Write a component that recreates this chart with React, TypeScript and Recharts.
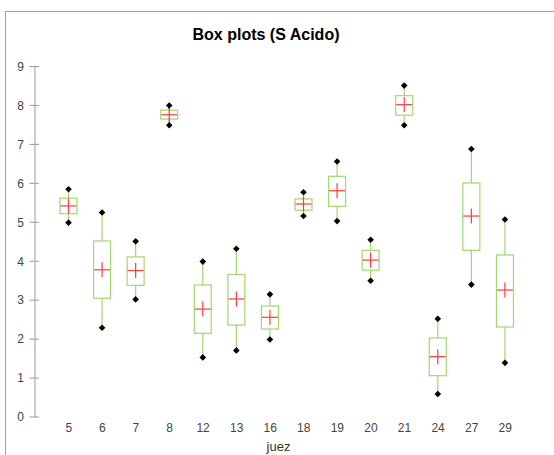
import React from 'react';
import { ComposedChart, Bar, XAxis, YAxis } from 'recharts';

const categories = ['5', '6', '7', '8', '12', '13', '16', '18', '19', '20', '21', '24', '27', '29'];
const minVals = [4.99, 2.29, 3.02, 7.49, 1.53, 1.71, 1.99, 5.16, 5.03, 3.50, 7.49, 0.59, 3.40, 1.39];
const q1Vals = [5.22, 3.05, 3.38, 7.65, 2.15, 2.36, 2.26, 5.31, 5.41, 3.77, 7.75, 1.06, 4.28, 2.31];
const meanVals = [5.42, 3.78, 3.76, 7.76, 2.77, 3.03, 2.56, 5.47, 5.81, 4.03, 8.02, 1.55, 5.16, 3.26];
const q3Vals = [5.62, 4.52, 4.11, 7.88, 3.39, 3.66, 2.85, 5.60, 6.18, 4.28, 8.25, 2.03, 6.01, 4.16];
const maxVals = [5.85, 5.25, 4.51, 8.00, 3.99, 4.32, 3.15, 5.77, 6.56, 4.55, 8.51, 2.52, 6.88, 5.07];
const yTicks = [0, 1, 2, 3, 4, 5, 6, 7, 8, 9];

const data = categories.map((c, i) => ({
  juez: c,
  min: minVals[i],
  q1: q1Vals[i],
  mean: meanVals[i],
  q3: q3Vals[i],
  max: maxVals[i],
}));

const GREEN = '#a2d86f';
const RED = '#ff3b3b';
const FONT = 'Liberation Sans, Arial, sans-serif';

const BoxShape = (props: any) => {
  const { x, y, width, height, payload } = props;
  if (payload == null || height == null) return null;
  const range = payload.max - payload.min;
  const k = range > 0 ? height / range : 0;
  const py = (v: number) => y + (payload.max - v) * k;
  const cx = x + width / 2;
  const yMax = py(payload.max);
  const yMin = py(payload.min);
  const yQ3 = py(payload.q3);
  const yQ1 = py(payload.q1);
  const yMean = py(payload.mean);
  const d = 3.3;
  const diamond = (yy: number) =>
    `M${cx},${yy - d} L${cx + d},${yy} L${cx},${yy + d} L${cx - d},${yy} Z`;
  return (
    <g>
      <line x1={cx} x2={cx} y1={yMax} y2={yQ3} stroke={GREEN} strokeWidth={1.2} />
      <line x1={cx} x2={cx} y1={yQ1} y2={yMin} stroke={GREEN} strokeWidth={1.2} />
      <rect x={x} y={yQ3} width={width} height={yQ1 - yQ3} fill="none" stroke={GREEN} strokeWidth={1.2} />
      <line x1={x + 0.5} x2={x + width - 0.5} y1={yMean} y2={yMean} stroke={RED} strokeWidth={1.2} />
      <line x1={cx} x2={cx} y1={yMean - 7.5} y2={yMean + 7.5} stroke={RED} strokeWidth={1.2} />
      <path d={diamond(yMax)} fill="#000" />
      <path d={diamond(yMin)} fill="#000" />
    </g>
  );
};

const YTick = (props: any) => {
  const { x, y, payload } = props;
  return (
    <g>
      <line x1={x - 5.5} x2={x + 4} y1={y} y2={y} stroke="#999" strokeWidth={1} />
      <text x={x - 11} y={y + 4.3} textAnchor="end" fontSize={12} fill="#444" fontFamily={FONT}>
        {payload.value}
      </text>
    </g>
  );
};

const XTick = (props: any) => {
  const { x, y, payload } = props;
  return (
    <text x={x} y={y + 15} textAnchor="middle" fontSize={12} fill="#444" fontFamily={FONT}>
      {payload.value}
    </text>
  );
};

const XLabel = (props: any) => {
  const vb = props.viewBox || {};
  const cx = (vb.x || 0) + (vb.width || 0) / 2;
  return (
    <text x={cx} y={451} textAnchor="middle" fontSize={13} fill="#333" fontFamily={FONT}>
      juez
    </text>
  );
};

export default function App() {
  return (
    <div
      style={{
        position: 'absolute',
        left: 0,
        top: 0,
        width: 554,
        height: 455,
        background: '#fff',
        overflow: 'hidden',
        fontFamily: FONT,
      }}
    >
      <div
        style={{
          position: 'absolute',
          left: 166,
          width: 200,
          top: 26,
          textAlign: 'center',
          fontSize: 16,
          fontWeight: 'bold',
          color: '#000',
          lineHeight: '18px',
          whiteSpace: 'nowrap',
        }}
      >
        Box plots (S Acido)
      </div>
      <div style={{ position: 'absolute', left: 0, top: 0 }}>
        <ComposedChart
          width={554}
          height={455}
          data={data}
          margin={{ top: 66.5, right: 32, bottom: 0, left: 0 }}
        >
          <XAxis
            dataKey="juez"
            type="category"
            axisLine={false}
            tickLine={false}
            tickSize={0}
            tickMargin={0}
            height={38}
            padding={{ left: 17, right: 0 }}
            tick={<XTick />}
            interval={0}
            label={<XLabel />}
          />
          <YAxis
            type="number"
            domain={[0, 9]}
            ticks={yTicks}
            width={35}
            axisLine={{ stroke: '#999' }}
            tickLine={false}
            tickSize={0}
            tickMargin={0}
            tick={<YTick />}
            interval={0}
          />
          <Bar
            dataKey={(d: any) => [d.min, d.max]}
            barSize={17}
            isAnimationActive={false}
            shape={<BoxShape />}
            fill="none"
          />
        </ComposedChart>
      </div>
      <svg
        width={554}
        height={455}
        style={{ position: 'absolute', left: 0, top: 0, pointerEvents: 'none', zIndex: 5 }}
      >
        <path d="M5.5,455 L5.5,11.5 L554,11.5" fill="none" stroke="#a0a0a0" strokeWidth={1} />
      </svg>
    </div>
  );
}
